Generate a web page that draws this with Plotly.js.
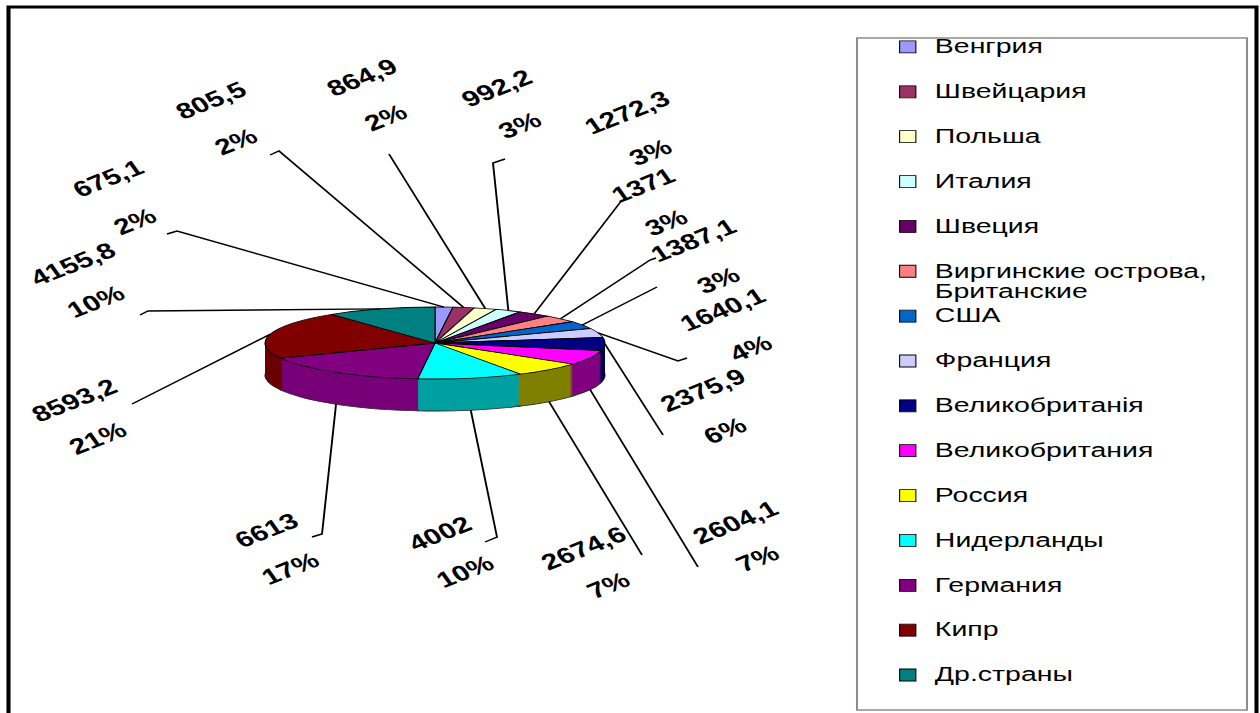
<!DOCTYPE html>
<html>
<head>
<meta charset="utf-8">
<script src="https://cdn.plot.ly/plotly-3.0.1.min.js"></script>
<style>
html,body{margin:0;padding:0;background:#fff;overflow:hidden;}
#chart{width:930px;height:713px;transform:scale(1.3548387,1);transform-origin:0 0;}
.pielayer path{vector-effect:non-scaling-stroke;}
</style>
</head>
<body>
<div id="chart"></div>
<script>
// ---------- data ----------
const categories = ['Венгрия','Швейцария','Польша','Италия','Швеция',
  'Виргинские острова, Британские','США','Франция','Великобританія',
  'Великобритания','Россия','Нидерланды','Германия','Кипр','Др.страны'];
const values = [675.1, 805.5, 864.9, 992.2, 1272.3, 1371, 1387.1, 1640.1,
  2375.9, 2604.1, 2674.6, 4002, 6613, 8593.2, 4155.8];
const percents = [2, 2, 2, 3, 3, 3, 3, 4, 6, 7, 7, 10, 17, 21, 10];

// ---------- styles ----------
const topColors = ['#9999FF','#993366','#FFFFCC','#CCFFFF','#660066','#FF8080',
  '#0066CC','#CCCCFF','#000080','#FF00FF','#FFFF00','#00FFFF','#800080','#800000','#008080'];
const sideColors = ['#4D4D80','#4D1A33','#808066','#668080','#330033','#804040',
  '#003366','#666680','#000050','#800080','#808000','#00A0A0','#780078','#6A0000','#004D4D'];

// ---------- layout geometry (reference pixel space 1260x713) ----------
const FW = 1260, FH = 713, PW = 930;          // drawn at 930 wide, stretched to 1260
const S = FW / PW;
const CX = 435, CY = 343, RX = 170, RY = 36, DEPTH = 32;
const R0 = RX / S;                            // pie radius before stretch
const K = RY / R0;                            // vertical squash of the disc
const px = x => x / FW;
const py = y => 1 - y / FH;

// label positions (centres of value / percent texts) and leader ends
const valuePos = [[108,178],[211,100],[362,78],[496,88],[627,112],[643,185],[693,240],
  [723,310],[702,390],[735,522],[583,548],[440,533],[266,530],[74,400],[72,264]];
const pctPos = [[135,222],[236,141],[386,118],[520,126],[650,152],[667,223],[718,280],
  [750,348],[725,430],[758,558],[608,585],[465,571],[290,568],[97,438],[96,302]];
const leaderEnds = [
  [[167,234],[177,231]], [[270,155],[279,151]], [[389,154]], [[505,159],[493,163]],
  [[622,200]], [[656,258],[650,260]], [[657,287]], [[687,358],[678,361]],
  [[663,435]], [[698,567]], [[642,555]], [[485,542],[497,537]],
  [[312,537],[322,534]], [[132,404]], [[140,315],[148,311]]
];

const total = values.reduce((a,b)=>a+b,0);
const cum = []; values.reduce((a,v,i)=>{cum[i]=a; return a+v;},0);
function edgePoint(i){
  const th = 2*Math.PI*(cum[i] + values[i]/2)/total;
  const s = Math.sin(th), c = Math.cos(th);
  let x = CX + RX*s, y = CY - RY*c;
  if (c < -0.3) y += DEPTH;
  return [x, y];
}

const legendLabels = categories.map(c => {
  const parts = c === 'Виргинские острова, Британские' ? ['Виргинские острова,','Британские'] : [c, '\u00a0'];
  return parts.map((p,j) => j===0 || p !== '\u00a0' ? '<span style="font-size:21px">'+p+'</span>' : p).join('<br>');
});

const domain = {
  x: [px(CX - RX), px(CX + RX)],
  y: [1 - (CY + R0)/FH, 1 - (CY - R0)/FH]
};

const data = [];
const offsets = [];
for (let d = DEPTH; d >= 1; d--) {
  data.push({
    type:'pie', labels: legendLabels, values: values, sort:false, direction:'clockwise',
    rotation:0, domain: domain, textinfo:'none', textposition:'none', hoverinfo:'skip',
    showlegend:false,
    marker:{colors: sideColors, line:{width: d===DEPTH ? 0.8 : 0, color:'#202020'}}
  });
  offsets.push(d);
}
data.push({
  type:'pie', labels: legendLabels, values: values, sort:false, direction:'clockwise',
  rotation:0, domain: domain, textinfo:'none', textposition:'none', hoverinfo:'skip',
  showlegend:true,
  marker:{colors: topColors, line:{width:0.8, color:'#000'}}
});
offsets.push(0);

const shapes = [];
// outer frame
shapes.push({type:'rect', xref:'paper', yref:'paper', x0:px(8.5), x1:px(1256.5), y0:py(725), y1:py(7),
  line:{color:'#000', width:3}, fillcolor:'rgba(0,0,0,0)'});
// legend frame
shapes.push({type:'rect', xref:'paper', yref:'paper', x0:px(857), x1:px(1247), y0:py(710), y1:py(38),
  line:{color:'#8c8c8c', width:1.5}, fillcolor:'rgba(0,0,0,0)'});
// leader lines
values.forEach((v,i) => {
  const pts = leaderEnds[i].concat([edgePoint(i)]);
  const path = pts.map((p,j) => (j? 'L':'M') + px(p[0]).toFixed(5) + ',' + py(p[1]).toFixed(5)).join(' ');
  shapes.push({type:'path', xref:'paper', yref:'paper', path: path, line:{color:'#000', width:1.4}});
});

const labelFont = {family:'Liberation Sans, Arial, sans-serif', size:22, color:'#000', weight:'bold'};
const annotations = [];
values.forEach((v,i) => {
  annotations.push({xref:'paper', yref:'paper', x:px(valuePos[i][0]), y:py(valuePos[i][1]),
    text:String(v).replace('.', ','), showarrow:false, textangle:-28, xanchor:'center', yanchor:'middle', font:labelFont});
  annotations.push({xref:'paper', yref:'paper', x:px(pctPos[i][0]), y:py(pctPos[i][1]),
    text:percents[i] + '%', showarrow:false, textangle:-28, xanchor:'center', yanchor:'middle', font:labelFont});
});

const layout = {
  width: PW, height: FH,
  margin:{l:0, r:0, t:0, b:0},
  paper_bgcolor:'#fff', plot_bgcolor:'#fff',
  showlegend:true,
  legend:{x: 650/PW, xanchor:'left', y: py(32), yanchor:'top', valign:'top',
    font:{family:'Liberation Sans, Arial, sans-serif', size:16.1, color:'#000'},
    bgcolor:'rgba(0,0,0,0)', borderwidth:0, traceorder:'normal'},
  shapes: shapes,
  annotations: annotations
};

const gd = document.getElementById('chart');
Plotly.newPlot(gd, data, layout, {staticPlot:true, displayModeBar:false}).then(() => {
  const groups = gd.querySelectorAll('.pielayer .trace');
  groups.forEach((g, i) => {
    const cd = gd.calcdata[i][0];
    const off = offsets[i];
    g.setAttribute('transform', 'translate(0,' + (cd.cy + off) + ') scale(1,' + K + ') translate(0,' + (-cd.cy) + ')');
  });
});
</script>
</body>
</html>
